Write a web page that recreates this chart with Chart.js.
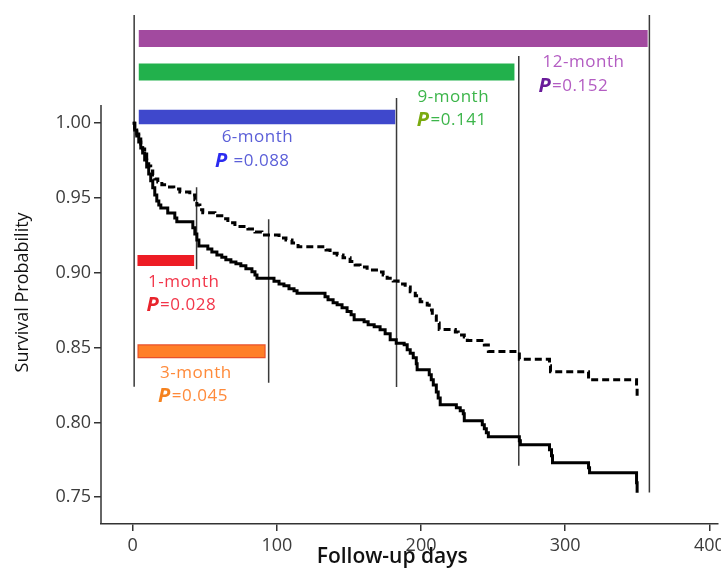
<!DOCTYPE html>
<html>
<head>
<meta charset="utf-8">
<script src="https://cdn.jsdelivr.net/npm/chart.js@4"></script>
<style>
  body { margin: 0; background: #fff; }
  #wrap { width: 721px; height: 571px; position: relative; }
</style>
</head>
<body>
<div id="wrap"><canvas id="km"></canvas></div>
<script>
// survival curves (days, probability)
const solidDays = [0, 1.4, 2.8, 4.2, 5.6, 6.9, 8.3, 9.7, 11.1, 12.5, 13.9, 15.3, 16.7, 18.1, 19.5, 24.3, 29.2, 30.6,
  41.7, 43.1, 44.5, 45.9, 52.1, 54.9, 58.4, 61.8, 64.6, 68.1, 71.6, 75.0, 78.5, 82.7, 84.8, 86.2,
  98.0, 101.5, 104.9, 108.4, 111.9, 114.0, 133.4, 135.5, 139.0, 141.8, 145.2, 148.7, 151.5, 153.6,
  160.5, 163.3, 167.5, 171.6, 175.1, 178.6, 182.8, 188.3, 190.4, 192.5, 194.6, 196.7, 197.3,
  205.7, 207.1, 208.5, 210.6, 211.9, 213.3, 224.5, 227.2, 229.3, 230.0, 242.5, 243.9, 245.3, 246.7,
  268.2, 268.9, 289.1, 290.5, 291.2, 316.2, 316.9, 349.5, 349.9]
const solidSurv = [1.000, 0.9955, 0.9915, 0.9875, 0.9835, 0.9801, 0.9755, 0.9708, 0.9661, 0.9615, 0.9568, 0.9521, 0.9481, 0.9454, 0.9434, 0.9400, 0.9367, 0.9341,
  0.9301, 0.9260, 0.9220, 0.9180, 0.9160, 0.9140, 0.9120, 0.9104, 0.9087, 0.9073, 0.9060, 0.9047, 0.9027, 0.9007, 0.8986, 0.8963,
  0.8943, 0.8926, 0.8913, 0.8893, 0.8880, 0.8863, 0.8840, 0.8820, 0.8800, 0.8786, 0.8766, 0.8741, 0.8719, 0.8686,
  0.8673, 0.8653, 0.8639, 0.8619, 0.8593, 0.8553, 0.8530, 0.8519, 0.8486, 0.8463, 0.8432, 0.8392, 0.8352,
  0.8318, 0.8285, 0.8251, 0.8204, 0.8164, 0.8118, 0.8098, 0.8078, 0.8058, 0.8011, 0.7984, 0.7957, 0.7931, 0.7904,
  0.7877, 0.7851, 0.7817, 0.7777, 0.7730, 0.7697, 0.7664, 0.7597, 0.7530]

const dashedDays = [0, 1.4, 2.8, 4.2, 5.6, 6.9, 8.3, 9.7, 11.1, 12.5, 13.9, 15.3, 17.4, 20.2, 24.3, 28.5, 32.7, 39.6,
  43.1, 44.5, 46.6, 48.6, 57.0, 61.8, 66.0, 70.9, 79.9, 84.8, 89.6, 101.5, 106.3, 110.5, 114.7,
  134.1, 136.9, 141.8, 145.9, 150.8, 154.3, 157.7, 162.6, 170.3, 173.7, 176.5, 180.7, 184.1, 189.0,
  192.5, 196.0, 199.4, 204.3, 205.7, 207.8, 210.6, 212.6, 223.8, 225.8, 230.0, 232.1, 243.9, 246.7,
  268.2, 289.1, 289.8, 316.2, 349.5, 349.9]
const dashedSurv = [1.000, 0.9969, 0.9928, 0.9895, 0.9861, 0.9828, 0.9795, 0.9755, 0.9715, 0.9681, 0.9654, 0.9628, 0.9608, 0.9588, 0.9574, 0.9561, 0.9541, 0.9521,
  0.9488, 0.9454, 0.9421, 0.9401, 0.9381, 0.9361, 0.9334, 0.9310, 0.9293, 0.9273, 0.9253, 0.9233, 0.9220, 0.9200, 0.9175,
  0.9153, 0.9131, 0.9120, 0.9100, 0.9075, 0.9053, 0.9039, 0.9019, 0.9006, 0.8986, 0.8964, 0.8946, 0.8926, 0.8906,
  0.8874, 0.8846, 0.8807, 0.8785, 0.8752, 0.8712, 0.8665, 0.8622, 0.8605, 0.8585, 0.8571, 0.8547, 0.8518, 0.8474,
  0.8423, 0.8379, 0.8339, 0.8285, 0.8232, 0.8172]

// comparison windows
const windowNames = ['1-month', '3-month', '6-month', '9-month', '12-month']
const pValues = ['0.028', '0.045', '0.088', '0.141', '0.152']
const barStart = [3.3, 3.3, 4.2, 4.2, 4.2]
const barEnd = [42.6, 92.2, 182.1, 264.8, 357.2]
const barLevel = [0.9083, 0.8476, 1.0042, 1.0343, 1.0567]

// vertical cut-off lines
const markerDays = [1, 44.3, 94.3, 183, 267.8, 358.4]
const markerTop = [1.0724, 0.9572, 0.9358, 1.0169, 1.045, 1.0724]
const markerBottom = [0.8239, 0.9024, 0.8266, 0.8237, 0.7711, 0.7531]

const xTicks = [0, 100, 200, 300, 400]
const yTicks = [0.75, 0.80, 0.85, 0.90, 0.95, 1.00]

// styling
const barColors = ['#ED1C24', '#FF7F27', '#3F48CC', '#22B14C', '#A24A9F']
const barWidths = [11, 14, 14.5, 17, 17]
const textColors = ['#F2364A', '#FF8A3A', '#5B5FD8', '#3CB54A', '#B35CC2']
const pColors = ['#E8242C', '#F5821F', '#2B2BF0', '#7AAA10', '#6A1B9A']
const nameAt = [[35.4, 0.8941], [43.8, 0.8329], [86.5, 0.9910], [222.4, 1.0174], [312.7, 1.0408]]
const pAt = [[9.5, 0.8781], [17.6, 0.8177], [57.0, 0.9748], [197.1, 1.0022], [281.4, 1.0245]]
const pSep = ['', '', ' ', '', '']

const FONT = "'Open Sans', 'DejaVu Sans', sans-serif"

const pts = (xs, ys) => xs.map((d, i) => ({ x: d, y: ys[i] }))

var datasets = []

// order: lower draws on top
datasets.push({
  data: pts(solidDays, solidSurv), order: 0,
  showLine: true, stepped: true, pointRadius: 0,
  borderColor: '#000', borderWidth: 3
})
datasets.push({
  data: pts(dashedDays, dashedSurv), order: 0,
  showLine: true, stepped: true, pointRadius: 0,
  borderColor: '#000', borderWidth: 3, borderDash: [7, 4]
})

markerDays.forEach((d, i) => {
  datasets.push({
    data: [{ x: d, y: markerTop[i] }, { x: d, y: markerBottom[i] }], order: 1,
    showLine: true, pointRadius: 0,
    borderColor: '#3a3a3a', borderWidth: 1.5
  })
})

windowNames.forEach((n, i) => {
  datasets.push({
    data: [{ x: barStart[i], y: barLevel[i] }, { x: barEnd[i], y: barLevel[i] }], order: 3,
    showLine: true, pointRadius: 0, borderCapStyle: 'butt',
    borderColor: i === 1 ? '#E8502A' : barColors[i], borderWidth: barWidths[i]
  })
  if (i === 1) {
    // orange bar has a darker outline, fill it on top
    datasets.push({
      data: [{ x: barStart[i] + 0.8, y: barLevel[i] }, { x: barEnd[i] - 0.8, y: barLevel[i] }], order: 2,
      showLine: true, pointRadius: 0, borderCapStyle: 'butt',
      borderColor: barColors[i], borderWidth: barWidths[i] - 2.5
    })
  }
})

const textPlugin = {
  id: 'kmText',
  afterDatasetsDraw(chart) {
    const ctx = chart.ctx
    const x = chart.scales.x
    const y = chart.scales.y
    ctx.save()
    // y axis line only spans the data range
    ctx.strokeStyle = '#333'
    ctx.lineWidth = 1.5
    ctx.beginPath()
    ctx.moveTo(chart.chartArea.left, y.getPixelForValue(1.0122))
    ctx.lineTo(chart.chartArea.left, chart.chartArea.bottom)
    ctx.stroke()

    ctx.textBaseline = 'middle'
    ctx.letterSpacing = '0.5px'
    windowNames.forEach((n, i) => {
      ctx.font = '17px ' + FONT
      ctx.fillStyle = textColors[i]
      ctx.textAlign = 'center'
      ctx.fillText(n, x.getPixelForValue(nameAt[i][0]), y.getPixelForValue(nameAt[i][1]))
      ctx.textAlign = 'left'
      var px = x.getPixelForValue(pAt[i][0])
      var py = y.getPixelForValue(pAt[i][1])
      ctx.font = 'italic bold 20px ' + FONT
      ctx.fillStyle = pColors[i]
      ctx.fillText('P', px, py)
      px += ctx.measureText('P').width + 1
      ctx.font = '17px ' + FONT
      ctx.fillStyle = textColors[i]
      ctx.fillText(pSep[i] + '=' + pValues[i], px, py)
    })

    // axis titles
    ctx.letterSpacing = '0px'
    ctx.fillStyle = '#111'
    ctx.textAlign = 'center'
    ctx.font = '600 21px ' + FONT
    ctx.fillText('Follow-up days', x.getPixelForValue(180), chart.height - 14)
    ctx.translate(23, y.getPixelForValue(0.8869))
    ctx.rotate(-Math.PI / 2)
    ctx.font = '18px ' + FONT
    ctx.fillText('Survival Probability', 0, 0)
    ctx.restore()
  }
}

// keep chart area fixed: no automatic padding for overflowing tick labels
const noPad = s => { s.paddingLeft = 0; s.paddingRight = 0; s.paddingTop = 0; s.paddingBottom = 0 }

var chart = new Chart(document.getElementById('km').getContext('2d'), {
  type: 'scatter',
  data: { datasets: datasets },
  options: {
    responsive: true,
    maintainAspectRatio: false,
    animation: false,
    layout: { padding: { top: 10, right: 3, left: 0, bottom: 0 } },
    plugins: { legend: { display: false }, tooltip: { enabled: false } },
    scales: {
      x: {
        type: 'linear', min: -22, max: 406,
        afterFit: s => { s.height = 47; noPad(s) },
        afterBuildTicks: s => { s.ticks = xTicks.map(v => ({ value: v })) },
        border: { display: true, color: '#333', width: 1.5 },
        grid: { drawOnChartArea: false, tickLength: 7, color: '#333', lineWidth: 1.5 },
        ticks: { color: '#3c3c3c', padding: 4, font: { family: FONT, size: 18 } }
      },
      y: {
        type: 'linear', min: 0.7321, max: 1.0757,
        afterFit: s => { s.width = 101; noPad(s) },
        afterBuildTicks: s => { s.ticks = yTicks.map(v => ({ value: v })) },
        border: { display: false },
        grid: { drawOnChartArea: false, tickLength: 7, color: '#333', lineWidth: 1.5 },
        ticks: { color: '#3c3c3c', padding: 3, font: { family: FONT, size: 18 },
          callback: v => v.toFixed(2) }
      }
    }
  },
  plugins: [textPlugin]
})
</script>
</body>
</html>
